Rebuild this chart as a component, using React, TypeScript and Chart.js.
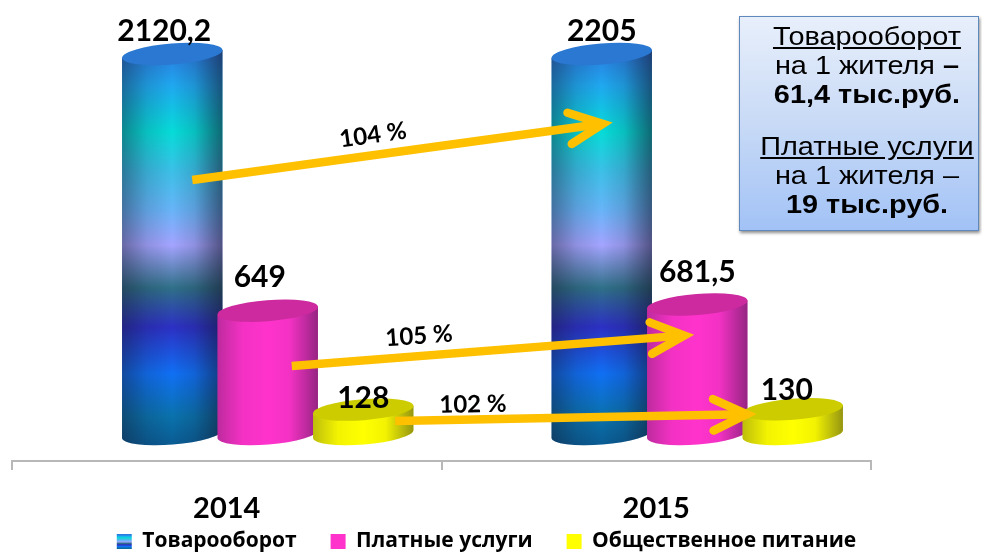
import React, { useEffect, useRef } from "react";
import { Chart, registerables } from "chart.js";

Chart.register(...registerables);

const categories = ["2014", "2015"];
const seriesNames = ["Товарооборот", "Платные услуги", "Общественное питание"];
const turnover = [2120.2, 2205];
const paidServices = [649, 681.5];
const catering = [128, 130];
const axisMax = 2000;

// Growth arrows: from one bar in 2014 to the same series in 2015, in data units.
const arrowLabels = ["104 %", "105 %", "102 %"];
const arrowFromValues = [1337, 358, 68];
const arrowToValues = [1637, 521, 105];

const FONT = "Lato, 'Noto Sans', sans-serif";
const LEGEND_FONT = "'Open Sans', 'Noto Sans', sans-serif";
const DEPTH_X = 41;
const DEPTH_Y = 27;
const RX_TILT = (-4.5 * Math.PI) / 180;
const RY = 10.5;

const blueStops: [number, string][] = [
  [0, "#2a7de0"],
  [0.08, "#1fa8f0"],
  [0.2, "#06dcd8"],
  [0.3, "#3cc0e8"],
  [0.4, "#68b4f8"],
  [0.49, "#a4a4ff"],
  [0.6, "#2f7088"],
  [0.7, "#2c30c4"],
  [0.82, "#1070f4"],
  [0.93, "#0a72ac"],
  [1, "#0a5c94"],
];
const pinkSide = "#ff33cc";
const yellowSide = "#ffff00";
const topColours = ["#2a78d2", "#cc2a9e", "#cccc00"];
const arrowColour = "#ffc000";

function blueGradient(ctx: CanvasRenderingContext2D, y0: number, y1: number) {
  const g = ctx.createLinearGradient(0, y0, 0, y1);
  blueStops.forEach(([p, c]) => g.addColorStop(p, c));
  return g;
}

function drawCylinder(
  ctx: CanvasRenderingContext2D,
  cx: number,
  rx: number,
  topY: number,
  baseY: number,
  ds: number,
) {
  const dy = Math.sin(RX_TILT) * rx;
  const dx = Math.cos(RX_TILT) * rx;
  const side = () => {
    ctx.beginPath();
    ctx.moveTo(cx - dx, topY - dy);
    ctx.lineTo(cx - dx, baseY - dy);
    ctx.ellipse(cx, baseY, rx, RY, RX_TILT, Math.PI, 0, true);
    ctx.lineTo(cx + dx, topY + dy);
    ctx.closePath();
  };
  side();
  ctx.fillStyle = ds === 0 ? blueGradient(ctx, 54, 444) : ds === 1 ? pinkSide : yellowSide;
  ctx.fill();
  const strong = ds === 0;
  const shade = ctx.createLinearGradient(cx - rx, 0, cx + rx, 0);
  shade.addColorStop(0, `rgba(20,20,40,${strong ? 0.42 : 0.28})`);
  shade.addColorStop(0.25, `rgba(20,20,40,${strong ? 0.14 : 0.05})`);
  shade.addColorStop(0.5, "rgba(20,20,40,0)");
  shade.addColorStop(0.72, `rgba(20,20,40,${strong ? 0.14 : 0.05})`);
  shade.addColorStop(1, `rgba(20,20,40,${strong ? 0.58 : 0.45})`);
  side();
  ctx.fillStyle = shade;
  ctx.fill();
  ctx.beginPath();
  ctx.ellipse(cx, topY, rx, RY, RX_TILT, 0, Math.PI * 2);
  ctx.fillStyle = topColours[ds];
  ctx.fill();
}

function drawArrow(
  ctx: CanvasRenderingContext2D,
  x0: number,
  y0: number,
  x1: number,
  y1: number,
) {
  const a = Math.atan2(y1 - y0, x1 - x0);
  ctx.save();
  ctx.strokeStyle = arrowColour;
  ctx.lineWidth = 8.5;
  ctx.beginPath();
  ctx.moveTo(x0, y0);
  ctx.lineTo(x1 - 8 * Math.cos(a), y1 - 8 * Math.sin(a));
  ctx.stroke();
  ctx.lineCap = "round";
  ctx.lineJoin = "miter";
  const wing = 37;
  const spread = 0.44;
  const tipX = x1 - 6 * Math.cos(a);
  const tipY = y1 - 6 * Math.sin(a);
  ctx.beginPath();
  ctx.moveTo(tipX - wing * Math.cos(a - spread), tipY - wing * Math.sin(a - spread));
  ctx.lineTo(tipX, tipY);
  ctx.lineTo(tipX - wing * Math.cos(a + spread), tipY - wing * Math.sin(a + spread));
  ctx.stroke();
  ctx.restore();
}

// Horizontal position of arrow ends relative to the bar centres.
const arrowStartShift = [20, 24, 32];
const arrowEndShift = [7, -7, -40];
const arrowLabelX = [373, 419, 473];
const arrowLabelLift = [20, 20, 15];
const arrowLabelAngle = [-8, -4, -1];
const valueLabelLift = [
  [23, 23],
  [33, 32],
  [11, 19],
];
const valueLabelShift = [
  [-8, 0],
  [-8, 0],
  [0, -6],
];

const cylinderPlugin = {
  id: "cylinders",
  afterLayout(chart: any) {
    chart.legend.left += 45;
    chart.legend.right += 45;
    chart.legend.top -= 26;
  },
  beforeDatasetsDraw(chart: any) {
    const { ctx, chartArea, scales } = chart;
    ctx.save();
    const tops: any[][] = [];
    chart.data.datasets.forEach((_: any, ds: number) => {
      const meta = chart.getDatasetMeta(ds);
      tops[ds] = meta.data.map((el: any) => {
        const p = el.getProps(["x", "y", "base", "width"], true);
        const top = Math.max(p.y, chartArea.top) - DEPTH_Y;
        return { x: p.x + DEPTH_X, top, base: p.base - DEPTH_Y, rx: p.width / 2 };
      });
    });
    for (let c = 0; c < categories.length; c++) {
      tops.forEach((row: any, ds) => {
        const b = row[c];
        drawCylinder(ctx, b.x, b.rx, b.top, b.base, ds);
      });
    }
    ctx.lineCap = "butt";
    arrowLabels.forEach((label, i) => {
      const from = tops[i][0];
      const to = tops[i][1];
      const x0 = from.x + arrowStartShift[i];
      const x1 = to.x + arrowEndShift[i];
      const y0 = scales.y.getPixelForValue(arrowFromValues[i]) - DEPTH_Y;
      const y1 = scales.y.getPixelForValue(arrowToValues[i]) - DEPTH_Y;
      drawArrow(ctx, x0, y0, x1, y1);
      const lx = arrowLabelX[i];
      const ly = y0 + ((y1 - y0) * (lx - x0)) / (x1 - x0) - arrowLabelLift[i];
      ctx.save();
      ctx.translate(lx, ly);
      ctx.rotate((arrowLabelAngle[i] * Math.PI) / 180);
      ctx.fillStyle = "#000";
      ctx.font = `bold 24px ${FONT}`;
      ctx.textAlign = "center";
      ctx.textBaseline = "middle";
      ctx.fillText(label, 0, 0);
      ctx.restore();
    });
    chart.data.datasets.forEach((d: any, ds: number) => {
      d.data.forEach((v: number, c: number) => {
        const b = tops[ds][c];
        ctx.fillStyle = "#000";
        ctx.font = `bold 30px ${FONT}`;
        ctx.textAlign = "center";
        ctx.textBaseline = "middle";
        ctx.fillText(
          String(v).replace(".", ","),
          b.x + valueLabelShift[ds][c],
          b.top - valueLabelLift[ds][c],
        );
      });
    });
    ctx.restore();
    return false;
  },
};

export default function App() {
  const ref = useRef<HTMLCanvasElement>(null);
  useEffect(() => {
    const ctx = ref.current!.getContext("2d")!;
    const chart = new Chart(ctx, {
      type: "bar",
      data: {
        labels: categories,
        datasets: [
          { label: seriesNames[0], data: turnover, backgroundColor: "#1fa8f0" },
          { label: seriesNames[1], data: paidServices, backgroundColor: pinkSide },
          { label: seriesNames[2], data: catering, backgroundColor: yellowSide },
        ],
      },
      plugins: [cylinderPlugin],
      options: {
        responsive: false,
        animation: false,
        events: [],
        layout: { padding: { left: 12, right: 111, top: 81, bottom: 0 } },
        datasets: { bar: { categoryPercentage: 0.667, barPercentage: 1.055 } },
        plugins: {
          tooltip: { enabled: false },
          legend: {
            position: "bottom",
            maxHeight: 29,
            labels: {
              color: "#000",
              font: { family: LEGEND_FONT, size: 21, weight: "bold" },
              boxWidth: 15,
              boxHeight: 15,
              padding: 34,
              generateLabels(c: any) {
                const items = Chart.defaults.plugins.legend.labels.generateLabels(c);
                items[0].fillStyle = blueGradient(c.ctx, 535, 549);
                items.forEach((it: any) => (it.lineWidth = 0));
                return items;
              },
            },
          },
        },
        scales: {
          x: {
            afterFit(s: any) {
              s.height = 62;
            },
            border: { color: "#b8b8b8", width: 2 },
            grid: {
              offset: true,
              drawOnChartArea: false,
              color: "#b8b8b8",
              lineWidth: 2,
              tickLength: 9,
            },
            ticks: {
              color: "#000",
              padding: 21,
              font: { family: FONT, size: 29, weight: "bold" },
            },
          },
          y: { display: false, min: 0, max: axisMax },
        },
      },
    } as any);
    return () => chart.destroy();
  }, []);

  const hdr: React.CSSProperties = { textDecoration: "underline" };
  return (
    <div style={{ position: "fixed", left: 0, top: 0, width: 982, height: 552, background: "#fff" }}>
      <canvas ref={ref} width={982} height={552} style={{ display: "block" }} />
      <div
        style={{
          position: "absolute",
          left: 739,
          top: 16,
          width: 240,
          height: 215,
          boxSizing: "border-box",
          border: "1.5px solid #5f88bd",
          boxShadow: "1px 2px 3px rgba(0,0,0,0.45)",
          background: "linear-gradient(180deg,#e8effb 0%,#c8daf6 50%,#a2c2f6 100%)",
        }}
      >
        <div
          style={{
            position: "absolute",
            left: -52,
            right: -68,
            top: 5,
            transform: "scaleX(1.155)",
            fontFamily: "'Liberation Sans', Arial, sans-serif",
            fontSize: 25,
            lineHeight: "29px",
            textAlign: "center",
            color: "#000",
          }}
        >
          <div style={hdr}>Товарооборот</div>
          <div>
            на 1 жителя <b>–</b>
          </div>
          <div>
            <b>61,4 тыс.руб.</b>
          </div>
          <div style={{ height: 23 }} />
          <div style={hdr}>Платные услуги</div>
          <div>на 1 жителя –</div>
          <div>
            <b>19 тыс.руб.</b>
          </div>
        </div>
      </div>
    </div>
  );
}
